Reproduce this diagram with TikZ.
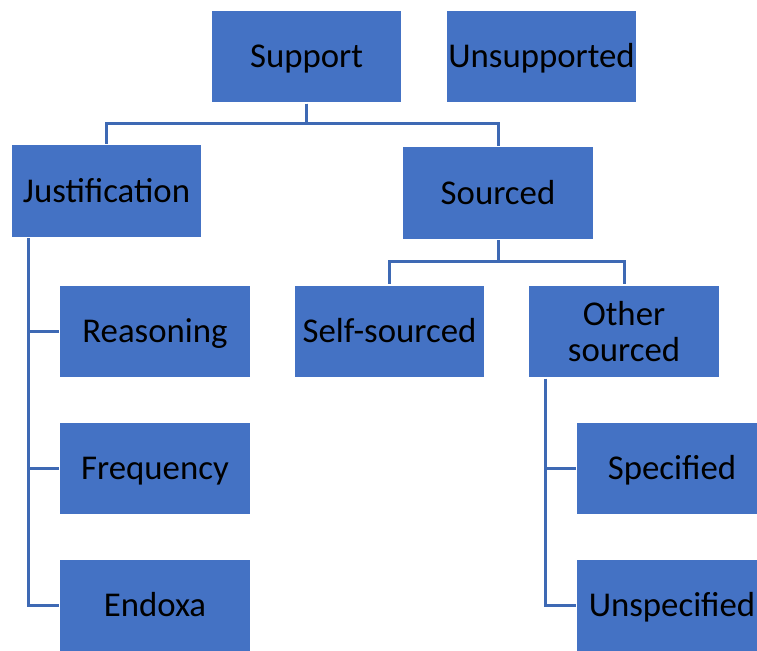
\documentclass[tikz,border=0pt]{standalone}
\usepackage{fontspec}
\setmainfont{Carlito}
\usepackage{xcolor}
\usetikzlibrary{positioning,calc}
\definecolor{officeblue}{HTML}{4472C4}
\tikzset{
  cat/.style={rectangle,fill=officeblue,draw=white,line width=0.8pt,minimum width=3.82cm,minimum height=1.86cm,inner sep=1pt,text=black,align=center,text height=12.8pt,text depth=0pt,font=\fontsize{19.8}{20.5}\selectfont},
  link/.style={line width=1.7pt,officeblue!92!black}
}
\begin{document}
\begin{tikzpicture}[x=0.02cm,y=-0.02cm]
  \useasboundingbox (0,0) rectangle (757,651);
  \clip (0,0) rectangle (757,651);
  % top level
  \node[cat] (sup) at (306.5,56.5) {Support};
  \node[cat] (unsup) at (541.5,56.5) {Unsupported};
  % second level
  \node[cat] (just) at (106.5,191) {Justification};
  \node[cat] (src) at (498,193) {Sourced};
  % under sourced
  \node[cat] (self) at (389.5,331.5) {Self-sourced};
  \node[cat,text height=,text depth=] (other) at (624,331.5) {Other\\sourced};
  % under justification
  \node[cat] (reas) at (155,331.5) {Reasoning};
  \node[cat] (freq) at (155,468.5) {Frequency};
  \node[cat] (endo) at (155,605.5) {Endoxa};
  % under other sourced
  \node[cat] (spec) at (672,468.5) {Specified};
  \node[cat] (unspec) at (672,605.5) {Unspecified};
  % tree links
  \draw[link] (sup.south) -- ++(0,20) -| (just.north);
  \draw[link] (sup.south) -- ++(0,20) -| (src.north);
  \draw[link] (src.south) -- ++(0,21) -| (self.north);
  \draw[link] (src.south) -- ++(0,21) -| (other.north);
  \coordinate (jt) at ($(just.south west)+(18,0)$);
  \draw[link] (jt) |- (endo.west);
  \draw[link] (jt |- reas.west) -- (reas.west);
  \draw[link] (jt |- freq.west) -- (freq.west);
  \coordinate (ot) at ($(other.south west)+(18,0)$);
  \draw[link] (ot) |- (unspec.west);
  \draw[link] (ot |- spec.west) -- (spec.west);
\end{tikzpicture}
\end{document}
